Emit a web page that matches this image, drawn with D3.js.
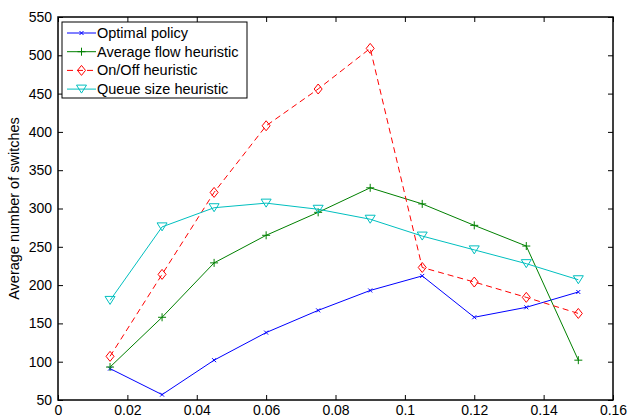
<!DOCTYPE html>
<html><head><meta charset="utf-8">
<script src="https://cdn.jsdelivr.net/npm/d3@7"></script>
<style>body{margin:0;background:#fff;} svg{display:block;} text{font-family:"Liberation Sans",Arial,sans-serif;}</style>
</head><body><svg id="c" width="630" height="416"></svg>
<script>
const xValues = [0.015, 0.03, 0.045, 0.06, 0.075, 0.09, 0.105, 0.12, 0.135, 0.15];
const optimalPolicy = [91, 57, 102, 138, 167, 193, 212, 158, 171, 191];
const averageFlow = [93, 158, 229, 265, 295, 327, 306, 278, 251, 102];
const onOff = [107, 214, 321, 408, 456, 509, 223, 204, 184, 163];
const queueSize = [180, 276, 301, 307, 299, 286, 264, 246, 228, 207];
const seriesNames = ["Optimal policy", "Average flow heuristic", "On/Off heuristic", "Queue size heuristic"];
const xTicks = [0, 0.02, 0.04, 0.06, 0.08, 0.1, 0.12, 0.14, 0.16];
const yTicks = [50, 100, 150, 200, 250, 300, 350, 400, 450, 500, 550];

const series = [
  {name: seriesNames[0], values: optimalPolicy, color: "#0000ff", dash: null, marker: "x"},
  {name: seriesNames[1], values: averageFlow, color: "#008000", dash: null, marker: "plus"},
  {name: seriesNames[2], values: onOff, color: "#ff0000", dash: "6,4", marker: "diamond"},
  {name: seriesNames[3], values: queueSize, color: "#00bfbf", dash: null, marker: "tri"}
];

const L = 58, R = 613, T = 17, B = 400;
const x = d3.scaleLinear().domain([0, 0.16]).range([L, R]);
const y = d3.scaleLinear().domain([50, 550]).range([B, T]);
const svg = d3.select("#c");

const fmt = d => d === 0 ? "0" : String(+d.toFixed(2));
// axes
const ax = svg.append("g").attr("transform", `translate(0,${B})`)
  .call(d3.axisBottom(x).tickValues(xTicks).tickFormat(fmt).tickSizeInner(-5).tickSizeOuter(0).tickPadding(5));
const axT = svg.append("g").attr("transform", `translate(0,${T})`)
  .call(d3.axisTop(x).tickValues(xTicks).tickFormat("").tickSizeInner(-5).tickSizeOuter(0));
const ay = svg.append("g").attr("transform", `translate(${L},0)`)
  .call(d3.axisLeft(y).tickValues(yTicks).tickSizeInner(-5).tickSizeOuter(0).tickPadding(6));
const ayR = svg.append("g").attr("transform", `translate(${R},0)`)
  .call(d3.axisRight(y).tickValues(yTicks).tickFormat("").tickSizeInner(-5).tickSizeOuter(0));
[ax, axT, ay, ayR].forEach(g => {
  g.selectAll("path").remove();
  g.selectAll("line").attr("stroke", "#000").attr("stroke-width", 1);
  g.selectAll("text").attr("font-size", 14).attr("fill", "#000").attr("font-family", "Liberation Sans, Arial, sans-serif");
});
svg.append("rect").attr("x", L).attr("y", T).attr("width", R - L).attr("height", B - T)
  .attr("fill", "none").attr("stroke", "#000").attr("stroke-width", 1.5);

svg.append("text").attr("transform", `translate(19,${(T + B) / 2}) rotate(-90)`)
  .attr("text-anchor", "middle").attr("font-size", 14.5).text("Average number of switches");

function drawMarker(g, type, cx, cy, color) {
  if (type === "x") {
    g.append("path").attr("d", `M${cx-2},${cy-2}L${cx+2},${cy+2}M${cx-2},${cy+2}L${cx+2},${cy-2}`)
      .attr("stroke", color).attr("stroke-width", 1).attr("fill", "none");
  } else if (type === "plus") {
    g.append("path").attr("d", `M${cx-4},${cy}L${cx+4},${cy}M${cx},${cy-4}L${cx},${cy+4}`)
      .attr("stroke", color).attr("stroke-width", 1).attr("fill", "none");
  } else if (type === "diamond") {
    g.append("path").attr("d", `M${cx},${cy-5}L${cx+4},${cy}L${cx},${cy+5}L${cx-4},${cy}Z`)
      .attr("stroke", color).attr("stroke-width", 1).attr("fill", "none");
  } else if (type === "tri") {
    g.append("path").attr("d", `M${cx-5},${cy-4}L${cx+5},${cy-4}L${cx},${cy+4}Z`)
      .attr("stroke", color).attr("stroke-width", 1).attr("fill", "none");
  }
}

const line = d3.line().x((d, i) => x(xValues[i])).y(d => y(d));
series.forEach(s => {
  const g = svg.append("g");
  g.append("path").attr("d", line(s.values)).attr("fill", "none").attr("stroke", s.color)
    .attr("stroke-width", 1).attr("stroke-dasharray", s.dash);
  s.values.forEach((v, i) => drawMarker(g, s.marker, x(xValues[i]), y(v), s.color));
});

// legend
const lg = svg.append("g");
lg.append("rect").attr("x", 62).attr("y", 22).attr("width", 185).attr("height", 76)
  .attr("fill", "#fff").attr("stroke", "#000").attr("stroke-width", 1);
series.forEach((s, i) => {
  const yy = 33 + i * 18.7;
  lg.append("line").attr("x1", 67).attr("x2", 96).attr("y1", yy).attr("y2", yy)
    .attr("stroke", s.color).attr("stroke-width", 1).attr("stroke-dasharray", s.dash);
  drawMarker(lg, s.marker, 81.5, yy, s.color);
  lg.append("text").attr("x", 97).attr("y", yy + 5).attr("font-size", 14.5).text(s.name);
});
</script></body></html>
